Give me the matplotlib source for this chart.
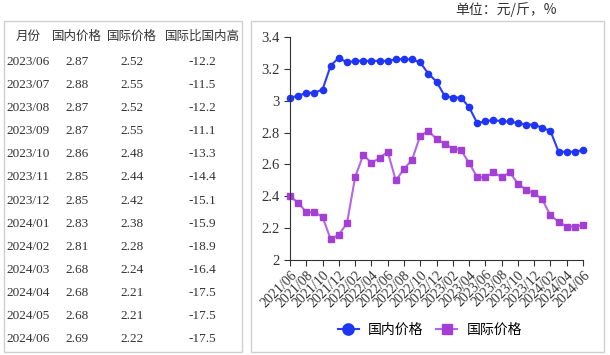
import numpy as np
import matplotlib.pyplot as plt
from matplotlib.patches import Rectangle

plt.rcParams['font.family'] = ['Liberation Serif', 'Noto Sans CJK SC']

months = []
for y in range(2021, 2025):
    for m in range(1, 13):
        if (y == 2021 and m < 6) or (y == 2024 and m > 6):
            continue
        months.append("%d/%02d" % (y, m))

domestic = [3.02, 3.03, 3.05, 3.05, 3.07, 3.22, 3.27,
            3.24, 3.25, 3.25, 3.25, 3.25, 3.25, 3.26, 3.26, 3.26, 3.24, 3.17, 3.12,
            3.03, 3.02, 3.02, 2.96, 2.86, 2.87, 2.88, 2.87, 2.87, 2.86, 2.85, 2.85,
            2.83, 2.81, 2.68, 2.68, 2.68, 2.69]
international = [2.40, 2.36, 2.30, 2.30, 2.27, 2.13, 2.16,
                 2.23, 2.52, 2.66, 2.61, 2.64, 2.68, 2.50, 2.57, 2.63, 2.78, 2.81, 2.76,
                 2.73, 2.70, 2.69, 2.61, 2.52, 2.52, 2.55, 2.52, 2.55, 2.48, 2.44, 2.42,
                 2.38, 2.28, 2.24, 2.21, 2.21, 2.22]

table_header = ["月份", "国内价格", "国际价格", "国际比国内高"]
table_months = ["2023/06", "2023/07", "2023/08", "2023/09", "2023/10", "2023/11", "2023/12",
                "2024/01", "2024/02", "2024/03", "2024/04", "2024/05", "2024/06"]
table_dom = ["2.87", "2.88", "2.87", "2.87", "2.86", "2.85", "2.85",
             "2.83", "2.81", "2.68", "2.68", "2.68", "2.69"]
table_int = ["2.52", "2.55", "2.52", "2.55", "2.48", "2.44", "2.42",
             "2.38", "2.28", "2.24", "2.21", "2.21", "2.22"]
table_diff = ["-12.2", "-11.5", "-12.2", "-11.1", "-13.3", "-14.4", "-15.1",
              "-15.9", "-18.9", "-16.4", "-17.5", "-17.5", "-17.5"]

W, H = 610, 355
fig = plt.figure(figsize=(W / 100, H / 100), dpi=100)


def fx(px):
    return px / W


def fy(py):
    return 1 - py / H


# boxes
for x0, x1 in [(4, 242), (251, 604)]:
    fig.patches.append(Rectangle((fx(x0), fy(352)), fx(x1 - x0), (352 - 21) / H,
                                 transform=fig.transFigure, fill=False,
                                 edgecolor='#cfcfcf', lw=1))

fig.text(fx(557), fy(10), "单位：元/斤，%", ha='right', va='center',
         fontsize=10, family=['Noto Sans CJK SC'], color='#333333')

# table
cjk = ['Noto Sans CJK SC']
head_x = [28, 77, 132, 202]
for x, t in zip(head_x, table_header):
    fig.text(fx(x), fy(36), t, ha='center', va='center', fontsize=9,
             family=cjk, color='#333333')
for i in range(len(table_months)):
    yy = fy(62 + i * 23.1)
    fig.text(fx(6), yy, table_months[i], ha='left', va='center', fontsize=9.5, color='#333333')
    fig.text(fx(77), yy, table_dom[i], ha='center', va='center', fontsize=9.5, color='#333333')
    fig.text(fx(132), yy, table_int[i], ha='center', va='center', fontsize=9.5, color='#333333')
    fig.text(fx(202), yy, table_diff[i], ha='center', va='center', fontsize=9.5, color='#333333')

# chart
ax = fig.add_axes([fx(290), fy(260), fx(583 - 290), (260 - 37) / H])
x = np.arange(len(months))
ax.plot(x, domestic, color='#2a3cff', lw=1.5, marker='o', ms=4.5,
        markerfacecolor='#1f35f5', markeredgecolor='#1f35f5', clip_on=False, label="国内价格")
ax.plot(x, international, color='#b566e6', lw=1.5, marker='s', ms=4.2,
        markerfacecolor='#a43fd6', markeredgecolor='#a43fd6', clip_on=False, label="国际价格")

ax.set_xlim(0, len(months) - 1)
ax.set_ylim(2, 3.4)
ax.set_yticks(np.arange(2, 3.41, 0.2))
ax.set_yticklabels(["2", "2.2", "2.4", "2.6", "2.8", "3", "3.2", "3.4"])
ax.set_xticks(x[::2])
ax.set_xticklabels(months[::2], rotation=45, ha='right', rotation_mode='anchor')
ax.tick_params(axis='y', labelsize=10.5, colors='#333333', length=4, direction='out')
ax.tick_params(axis='x', labelsize=10, colors='#333333', length=4, direction='out', pad=2)
for s in ['top', 'right']:
    ax.spines[s].set_visible(False)
for s in ['left', 'bottom']:
    ax.spines[s].set_color('#333333')

leg = fig.legend(loc='center', bbox_to_anchor=(fx(430), fy(330)), ncol=2, frameon=False,
                 prop={'family': cjk, 'size': 10}, handlelength=1.5, handletextpad=0.7,
                 columnspacing=0.9, markerscale=1.8)

fig.savefig("out.png", dpi=100)
